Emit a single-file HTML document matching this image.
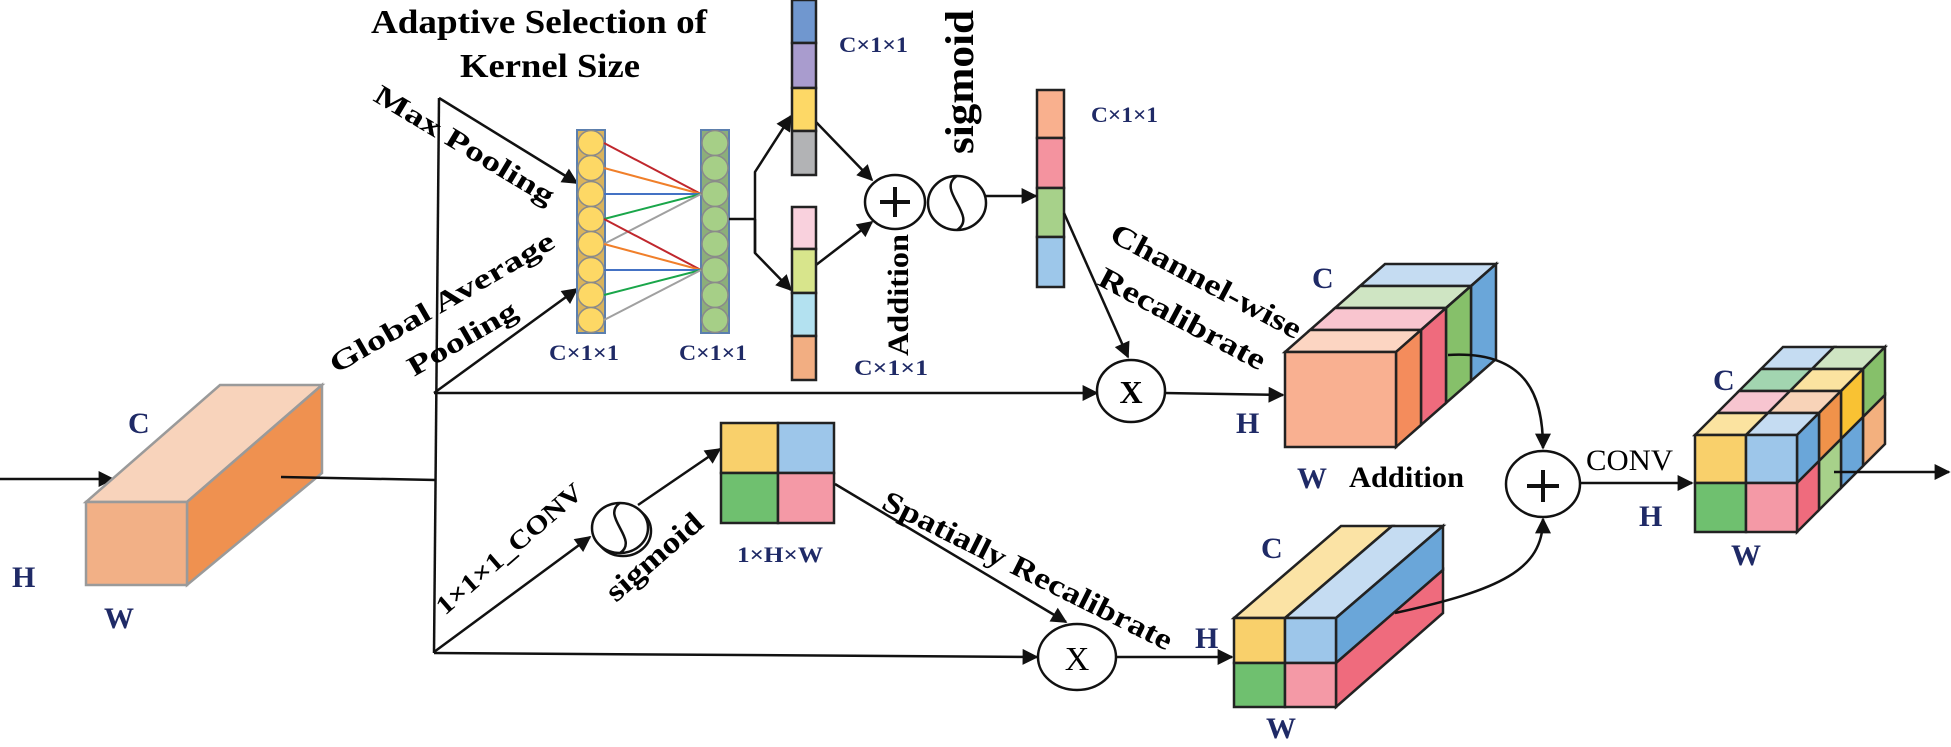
<!DOCTYPE html>
<html><head><meta charset="utf-8"><style>
html,body{margin:0;padding:0;background:#fff;}
svg{display:block;}
text{font-family:"Liberation Serif",serif;font-weight:bold;}
.n{fill:#1f2a66;}
</style></head><body>
<svg width="1951" height="747" viewBox="0 0 1951 747" xmlns="http://www.w3.org/2000/svg">
<defs>
<marker id="b" viewBox="0 0 10 10" refX="9" refY="5" markerWidth="18" markerHeight="16" markerUnits="userSpaceOnUse" orient="auto"><path d="M0,0 L10,5 L0,10 z" fill="#111"/></marker>
</defs>
<g stroke="#111" stroke-width="2.5" fill="none">
<line x1="0" y1="479" x2="113" y2="479" marker-end="url(#b)"/>
</g>
<g stroke="#9a9a9a" stroke-width="2.5">
<polygon points="86,502 187,502 322,385 220,385" fill="#f8d3bb"/>
<polygon points="187,502 322,385 322,473 187,585" fill="#ef9150"/>
<rect x="86" y="502" width="101" height="83" fill="#f2b086"/>
</g>
<text x="128" y="433" font-size="30" class="n">C</text>
<text x="12" y="587" font-size="30" class="n">H</text>
<text x="104" y="628" font-size="30" class="n">W</text>

<g stroke="#111" stroke-width="2.5" fill="none">
<line x1="281" y1="477" x2="436" y2="480"/>
<line x1="439" y1="98" x2="434" y2="653"/>
<line x1="439" y1="98" x2="577" y2="183" marker-end="url(#b)"/>
<line x1="434" y1="393" x2="577" y2="289" marker-end="url(#b)"/>
<line x1="434" y1="393" x2="1097" y2="393" marker-end="url(#b)"/>
<line x1="434" y1="652" x2="590" y2="537" marker-end="url(#b)"/>
<line x1="434" y1="653" x2="1037" y2="657" marker-end="url(#b)"/>
</g>

<text x="371" y="33" font-size="34" textLength="336" lengthAdjust="spacingAndGlyphs">Adaptive Selection of</text>
<text x="460" y="77" font-size="34" textLength="180" lengthAdjust="spacingAndGlyphs">Kernel Size</text>

<text transform="translate(372,100) rotate(31)" font-size="28" textLength="205" lengthAdjust="spacingAndGlyphs">Max Pooling</text>
<text transform="translate(336,374) rotate(-30)" font-size="28" textLength="255" lengthAdjust="spacingAndGlyphs">Global  Average</text>
<text transform="translate(414,377) rotate(-30)" font-size="28" textLength="122" lengthAdjust="spacingAndGlyphs">Pooling</text>

<rect x="577" y="130" width="28" height="203" fill="#d9b35c" stroke="#5b7fae" stroke-width="2"/>
<rect x="701" y="130" width="28" height="203" fill="#8cae7a" stroke="#5b7fae" stroke-width="2"/>
<g stroke="#8a8a8a" stroke-width="1.5">
<ellipse cx="591" cy="143" rx="13" ry="12.5" fill="#fdd865"/>
<ellipse cx="591" cy="168" rx="13" ry="12.5" fill="#fdd865"/>
<ellipse cx="591" cy="194" rx="13" ry="12.5" fill="#fdd865"/>
<ellipse cx="591" cy="219" rx="13" ry="12.5" fill="#fdd865"/>
<ellipse cx="591" cy="244" rx="13" ry="12.5" fill="#fdd865"/>
<ellipse cx="591" cy="270" rx="13" ry="12.5" fill="#fdd865"/>
<ellipse cx="591" cy="295" rx="13" ry="12.5" fill="#fdd865"/>
<ellipse cx="591" cy="320" rx="13" ry="12.5" fill="#fdd865"/>
<ellipse cx="715" cy="143" rx="13" ry="12.5" fill="#a6cf87"/>
<ellipse cx="715" cy="168" rx="13" ry="12.5" fill="#a6cf87"/>
<ellipse cx="715" cy="194" rx="13" ry="12.5" fill="#a6cf87"/>
<ellipse cx="715" cy="219" rx="13" ry="12.5" fill="#a6cf87"/>
<ellipse cx="715" cy="244" rx="13" ry="12.5" fill="#a6cf87"/>
<ellipse cx="715" cy="270" rx="13" ry="12.5" fill="#a6cf87"/>
<ellipse cx="715" cy="295" rx="13" ry="12.5" fill="#a6cf87"/>
<ellipse cx="715" cy="320" rx="13" ry="12.5" fill="#a6cf87"/>
</g>
<g stroke-width="2">
<line x1="604" y1="143" x2="701" y2="194" stroke="#c0272d"/>
<line x1="604" y1="168" x2="701" y2="194" stroke="#f07f2a"/>
<line x1="604" y1="194" x2="701" y2="194" stroke="#4472c4"/>
<line x1="604" y1="219" x2="701" y2="194" stroke="#1aa64a"/>
<line x1="604" y1="244" x2="701" y2="194" stroke="#a0a0a0"/>
<line x1="604" y1="219" x2="701" y2="270" stroke="#c0272d"/>
<line x1="604" y1="244" x2="701" y2="270" stroke="#f07f2a"/>
<line x1="604" y1="270" x2="701" y2="270" stroke="#4472c4"/>
<line x1="604" y1="295" x2="701" y2="270" stroke="#1aa64a"/>
<line x1="604" y1="320" x2="701" y2="270" stroke="#a0a0a0"/>
</g>
<text x="549" y="360" font-size="22" class="n" textLength="70" lengthAdjust="spacingAndGlyphs">C×1×1</text>
<text x="679" y="360" font-size="22" class="n" textLength="68" lengthAdjust="spacingAndGlyphs">C×1×1</text>

<g stroke="#111" stroke-width="2.5" fill="none">
<polyline points="729,219 755,219"/>
<polyline points="755,253 755,172 791,116" marker-end="url(#b)"/>
<polyline points="755,219 755,253 791,290" marker-end="url(#b)"/>
<line x1="816" y1="122" x2="872" y2="180" marker-end="url(#b)"/>
<line x1="816" y1="265" x2="872" y2="222" marker-end="url(#b)"/>
</g>
<g stroke="#222" stroke-width="2.5">
<rect x="792" y="0" width="24" height="43" fill="#7097cf"/>
<rect x="792" y="43" width="24" height="45" fill="#a99cce"/>
<rect x="792" y="88" width="24" height="43" fill="#fdd866"/>
<rect x="792" y="131" width="24" height="44" fill="#b2b3b5"/>
<rect x="792" y="207" width="24" height="42" fill="#f9d1dd"/>
<rect x="792" y="249" width="24" height="44" fill="#d8e58c"/>
<rect x="792" y="293" width="24" height="43" fill="#b3e1f0"/>
<rect x="792" y="336" width="24" height="44" fill="#f2ae82"/>
<rect x="1037" y="90" width="27" height="48" fill="#f9b08e"/>
<rect x="1037" y="138" width="27" height="50" fill="#f4939f"/>
<rect x="1037" y="188" width="27" height="49" fill="#a7d18a"/>
<rect x="1037" y="237" width="27" height="50" fill="#9dc7ea"/>
</g>
<text x="839" y="52" font-size="22" class="n" textLength="69" lengthAdjust="spacingAndGlyphs">C×1×1</text>
<text x="854" y="375" font-size="22" class="n" textLength="74" lengthAdjust="spacingAndGlyphs">C×1×1</text>
<text x="1091" y="122" font-size="22" class="n" textLength="67" lengthAdjust="spacingAndGlyphs">C×1×1</text>

<g stroke="#111" stroke-width="2.5" fill="#fff">
<ellipse cx="895" cy="202" rx="30" ry="27"/>
<ellipse cx="957" cy="203" rx="29" ry="27"/>
</g>
<g stroke="#111" stroke-width="4"><line x1="880" y1="202" x2="910" y2="202"/><line x1="895" y1="187" x2="895" y2="217"/></g>
<path d="M957,176 C935,190 979,216 957,230" stroke="#111" stroke-width="2.5" fill="none"/>
<text transform="translate(908,356) rotate(-90)" font-size="30" textLength="122" lengthAdjust="spacingAndGlyphs">Addition</text>
<text transform="translate(973,154) rotate(-90)" font-size="40" textLength="144" lengthAdjust="spacingAndGlyphs">sigmoid</text>
<g stroke="#111" stroke-width="2.5" fill="none">
<line x1="986" y1="196" x2="1036" y2="196" marker-end="url(#b)"/>
<line x1="1064" y1="213" x2="1128" y2="357" marker-end="url(#b)"/>
<line x1="1164" y1="393" x2="1283" y2="395" marker-end="url(#b)"/>
</g>
<text transform="translate(1108,240) rotate(28)" font-size="30" textLength="212" lengthAdjust="spacingAndGlyphs">Channel-wise</text>
<text transform="translate(1096,284) rotate(28)" font-size="30" textLength="185" lengthAdjust="spacingAndGlyphs">Recalibrate</text>
<ellipse cx="1131" cy="391" rx="34" ry="31" fill="#fff" stroke="#111" stroke-width="2.5"/>
<text x="1131" y="403" font-size="32" text-anchor="middle" font-family="Liberation Sans">X</text>

<g stroke="#222" stroke-width="2.5">
<polygon points="1360,286 1471,286 1496,264 1385,264" fill="#c5dcf2"/>
<polygon points="1471,286 1496,264 1496,359 1471,381" fill="#6aa6d9"/>
<polygon points="1335,308 1446,308 1471,286 1360,286" fill="#cfe5c3"/>
<polygon points="1446,308 1471,286 1471,381 1446,403" fill="#86c06a"/>
<polygon points="1310,330 1421,330 1446,308 1335,308" fill="#f9c5cf"/>
<polygon points="1421,330 1446,308 1446,403 1421,425" fill="#ef6b7d"/>
<polygon points="1285,352 1396,352 1421,330 1310,330" fill="#fcd5c2"/>
<polygon points="1396,352 1421,330 1421,425 1396,447" fill="#f48c5c"/>
<rect x="1285" y="352" width="111" height="95" fill="#f9b091"/>
</g>
<text x="1312" y="288" font-size="30" class="n">C</text>
<text x="1236" y="433" font-size="30" class="n">H</text>
<text x="1297" y="488" font-size="30" class="n">W</text>
<text x="1349" y="487" font-size="30" textLength="115" lengthAdjust="spacingAndGlyphs">Addition</text>

<text transform="translate(445,616) rotate(-41)" font-size="26" textLength="185" lengthAdjust="spacingAndGlyphs">1×1×1_CONV</text>
<ellipse cx="623" cy="531" rx="28" ry="25" fill="#fff" stroke="#111" stroke-width="2.5"/>
<ellipse cx="620" cy="528" rx="28" ry="25" fill="#fff" stroke="#111" stroke-width="2.5"/>
<path d="M620,503 C600,516 640,540 620,553" stroke="#111" stroke-width="2.5" fill="none"/>
<line x1="638" y1="505" x2="720" y2="449" stroke="#111" stroke-width="2.5" marker-end="url(#b)"/>
<text transform="translate(616,603) rotate(-41)" font-size="30" textLength="118" lengthAdjust="spacingAndGlyphs">sigmoid</text>
<g stroke="#222" stroke-width="2.5">
<rect x="721" y="423" width="57" height="50" fill="#f9d06b"/>
<rect x="778" y="423" width="56" height="50" fill="#9dc6ea"/>
<rect x="721" y="473" width="57" height="50" fill="#6fc06f"/>
<rect x="778" y="473" width="56" height="50" fill="#f499a6"/>
</g>
<text x="737" y="562" font-size="22" class="n" textLength="86" lengthAdjust="spacingAndGlyphs">1×H×W</text>
<line x1="835" y1="484" x2="1066" y2="622" stroke="#111" stroke-width="2.5" marker-end="url(#b)"/>
<text transform="translate(880,508) rotate(26.5)" font-size="30" textLength="320" lengthAdjust="spacingAndGlyphs">Spatially Recalibrate</text>
<ellipse cx="1077" cy="657" rx="39" ry="33" fill="#fff" stroke="#111" stroke-width="2.5"/>
<text x="1077" y="670" font-size="34" text-anchor="middle" font-family="Liberation Sans" style="font-weight:normal">X</text>
<line x1="1116" y1="657" x2="1232" y2="657" stroke="#111" stroke-width="2.5" marker-end="url(#b)"/>

<g stroke="#222" stroke-width="2.5">
<polygon points="1234,618 1285,618 1392,526 1341,526" fill="#fbe3a5"/>
<polygon points="1285,618 1336,618 1443,526 1392,526" fill="#c5dcf2"/>
<polygon points="1336,618 1443,526 1443,570 1336,663" fill="#6aa6d9"/>
<polygon points="1336,663 1443,570 1443,613 1336,707" fill="#ef6b7d"/>
<rect x="1234" y="618" width="51" height="45" fill="#f9d06b"/>
<rect x="1285" y="618" width="51" height="45" fill="#9dc6ea"/>
<rect x="1234" y="663" width="51" height="44" fill="#6fc06f"/>
<rect x="1285" y="663" width="51" height="44" fill="#f499a6"/>
</g>
<text x="1261" y="558" font-size="30" class="n">C</text>
<text x="1195" y="648" font-size="30" class="n">H</text>
<text x="1266" y="738" font-size="30" class="n">W</text>

<g stroke="#111" stroke-width="2.5" fill="none">
<path d="M1448,355 C1530,350 1543,400 1543,448" marker-end="url(#b)"/>
<path d="M1395,613 C1500,590 1543,570 1543,519" marker-end="url(#b)"/>
<line x1="1580" y1="483" x2="1692" y2="483" marker-end="url(#b)"/>
</g>
<ellipse cx="1543" cy="484" rx="37" ry="33" fill="#fff" stroke="#111" stroke-width="2.5"/>
<g stroke="#111" stroke-width="4"><line x1="1527" y1="486" x2="1559" y2="486"/><line x1="1543" y1="470" x2="1543" y2="502"/></g>
<text x="1586" y="470" font-size="30" style="font-weight:normal" textLength="87" lengthAdjust="spacingAndGlyphs">CONV</text>
<text x="1639" y="526" font-size="30" class="n">H</text>

<g stroke="#222" stroke-width="2.5">
<polygon points="1761,369 1812,369 1834,347 1783,347" fill="#c5dcf2"/>
<polygon points="1812,369 1863,369 1885,347 1834,347" fill="#cfe5c3"/>
<polygon points="1863,369 1885,347 1885,395 1863,417" fill="#86c06a"/>
<polygon points="1863,417 1885,395 1885,444 1863,466" fill="#f3b07e"/>
<polygon points="1739,391 1790,391 1812,369 1761,369" fill="#a2d5b0"/>
<polygon points="1790,391 1841,391 1863,369 1812,369" fill="#fbe3a0"/>
<polygon points="1841,391 1863,369 1863,417 1841,439" fill="#f9c233"/>
<polygon points="1841,439 1863,417 1863,466 1841,488" fill="#6aa6d9"/>
<polygon points="1717,413 1768,413 1790,391 1739,391" fill="#f7c5d0"/>
<polygon points="1768,413 1819,413 1841,391 1790,391" fill="#f8d3b8"/>
<polygon points="1819,413 1841,391 1841,439 1819,461" fill="#f0924a"/>
<polygon points="1819,461 1841,439 1841,488 1819,510" fill="#a7d18a"/>
<polygon points="1695,435 1746,435 1768,413 1717,413" fill="#fbe3a0"/>
<polygon points="1746,435 1797,435 1819,413 1768,413" fill="#c5dcf2"/>
<polygon points="1797,435 1819,413 1819,461 1797,483" fill="#6aa6d9"/>
<polygon points="1797,483 1819,461 1819,510 1797,532" fill="#ef6b7d"/>
<rect x="1695" y="435" width="51" height="48" fill="#f9d06b"/>
<rect x="1746" y="435" width="51" height="48" fill="#9dc6ea"/>
<rect x="1695" y="483" width="51" height="49" fill="#6fc06f"/>
<rect x="1746" y="483" width="51" height="49" fill="#f499a6"/>
</g>
<text x="1713" y="390" font-size="30" class="n">C</text>
<text x="1731" y="565" font-size="30" class="n">W</text>
<line x1="1834" y1="472" x2="1949" y2="472" stroke="#111" stroke-width="2.5" marker-end="url(#b)"/>
</svg>
</body></html>
